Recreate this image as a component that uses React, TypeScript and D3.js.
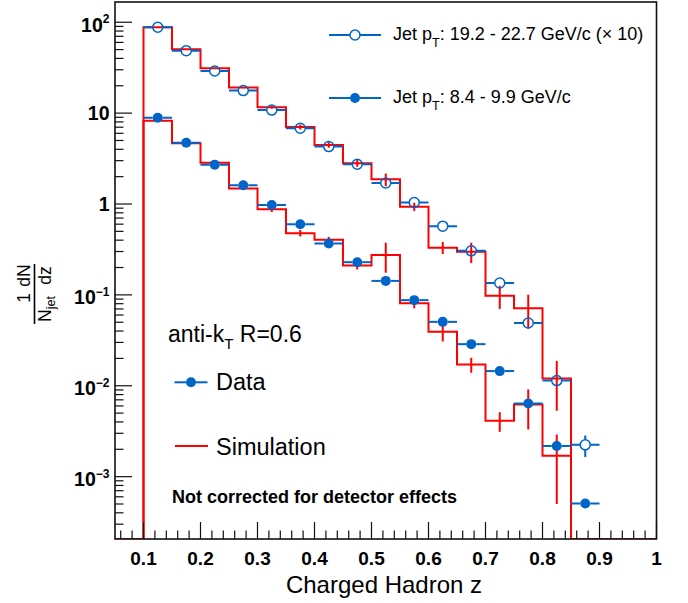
import React from "react";
import * as d3 from "d3";

// ---- data ----
const binLow = [0.1, 0.15, 0.2, 0.25, 0.3, 0.35, 0.4, 0.45, 0.5, 0.55, 0.6, 0.65, 0.7, 0.75, 0.8, 0.85];
const binWidth = 0.05;

// Data, Jet pT 19.2 - 22.7 GeV/c (x 10)
const dataHigh = [88, 48.7, 29.1, 17.7, 10.8, 6.82, 4.28, 2.74, 1.7, 1.04, 0.57, 0.305, 0.135, 0.049, 0.0114, 0.00224];
const dataHighErr = [0, 0, 0, 0, 0, 0, 0, 0, 0, 0, 0, 0, 0, 0, 0, 0.0006];
// Data, Jet pT 8.4 - 9.9 GeV/c
const dataLow = [8.9, 4.73, 2.71, 1.61, 0.977, 0.6, 0.367, 0.229, 0.1425, 0.0875, 0.0505, 0.0287, 0.0145, 0.00637, 0.00217, 0.000506];
const dataLowErr = [0, 0, 0, 0, 0, 0, 0, 0, 0, 0, 0, 0, 0, 0, 0, 0];

// Simulation (bins 0.10 - 0.85)
const simHigh = [88, 50.5, 31.2, 19.1, 11.6, 7.05, 4.47, 2.81, 1.87, 0.935, 0.331, 0.299, 0.098, 0.0714, 0.012];
const simHighErr = [0.5, 0.4, 0.3, 0.3, 0.4, 0.45, 0.3, 0.24, 0.3, 0.095, 0.05, 0.075, 0.028, 0.029, 0.0067];
const simLow = [8.26, 4.67, 2.85, 1.48, 0.877, 0.478, 0.403, 0.21, 0.275, 0.0811, 0.0392, 0.0171, 0.00411, 0.00621, 0.0017];
const simLowErr = [0.05, 0.04, 0.04, 0.04, 0.06, 0.04, 0.03, 0.02, 0.1, 0.01, 0.0085, 0.0032, 0.001, 0.0029, 0.0012];

const xTickLabels = ["0.1", "0.2", "0.3", "0.4", "0.5", "0.6", "0.7", "0.8", "0.9", "1"];
const xTickValues = [0.1, 0.2, 0.3, 0.4, 0.5, 0.6, 0.7, 0.8, 0.9, 1.0];
const yTickExps = [2, 1, 0, -1, -2, -3];

const legendHigh = ["Jet p", "T", ": 19.2 - 22.7 GeV/c (\u00d7 10)"];
const legendLow = ["Jet p", "T", ": 8.4 - 9.9 GeV/c"];

// ---- layout ----
const W = 688, H = 603;
const X0 = 115, X1 = 656.5, Y0 = 2, Y1 = 539;
const XMIN = 0.05, XMAX = 1.0, YMIN = 2.06e-4, YMAX = 167;
const BLUE = "#0064c8";
const RED = "#ff0000";
const FONT = "'Liberation Sans', Arial, Helvetica, sans-serif";

const x = d3.scaleLinear().domain([XMIN, XMAX]).range([X0, X1]);
const y = d3.scaleLog().domain([YMIN, YMAX]).range([Y1, Y0]);

function simPath(vals: number[]): string {
  const pts: [number, number][] = [[XMIN, YMIN]];
  vals.forEach((v, i) => pts.push([binLow[i], v]));
  pts.push([binLow[vals.length], YMIN]);
  pts.push([XMAX, YMIN]);
  const line = d3
    .line<[number, number]>()
    .x((d) => x(d[0]))
    .y((d) => y(Math.max(d[1], YMIN)))
    .curve(d3.curveStepAfter);
  return line(pts) || "";
}

const yc = (v: number) => Math.min(Y1, Math.max(Y0, y(Math.max(v, YMIN))));

function SimErrors({ vals, errs }: { vals: number[]; errs: number[] }) {
  return (
    <g stroke={RED} strokeWidth={2}>
      {vals.map((v, i) => {
        const cx = x(binLow[i] + binWidth / 2);
        return <line key={i} x1={cx} x2={cx} y1={yc(v + errs[i])} y2={yc(v - errs[i])} />;
      })}
    </g>
  );
}

function DataSeries({ vals, errs, open }: { vals: number[]; errs: number[]; open: boolean }) {
  const r = 5;
  return (
    <g>
      {vals.map((v, i) => {
        const cx = x(binLow[i] + binWidth / 2);
        const cy = y(v);
        const xl = x(binLow[i]);
        const xr = x(binLow[i] + binWidth);
        const up = y(v + errs[i]);
        const dn = yc(v - errs[i]);
        return (
          <g key={i}>
            <g stroke={BLUE} strokeWidth={2}>
              <line x1={xl} x2={cx - r} y1={cy} y2={cy} />
              <line x1={cx + r} x2={xr} y1={cy} y2={cy} />
              {errs[i] > 0 && cy - up > r && <line x1={cx} x2={cx} y1={up} y2={cy - r} />}
              {errs[i] > 0 && dn - cy > r && <line x1={cx} x2={cx} y1={cy + r} y2={dn} />}
            </g>
            {open ? (
              <circle cx={cx} cy={cy} r={r} fill="none" stroke={BLUE} strokeWidth={1.5} />
            ) : (
              <circle cx={cx} cy={cy} r={r} fill={BLUE} />
            )}
          </g>
        );
      })}
    </g>
  );
}

function LegendMarker({ cx, cy, open, half }: { cx: number; cy: number; open: boolean; half: number }) {
  const r = 5;
  return (
    <g>
      <g stroke={BLUE} strokeWidth={2}>
        <line x1={cx - half} x2={cx - r} y1={cy} y2={cy} />
        <line x1={cx + r} x2={cx + half} y1={cy} y2={cy} />
      </g>
      {open ? (
        <circle cx={cx} cy={cy} r={r} fill="none" stroke={BLUE} strokeWidth={1.5} />
      ) : (
        <circle cx={cx} cy={cy} r={r} fill={BLUE} />
      )}
    </g>
  );
}

export default function App() {
  // ticks
  const xMajor = xTickValues;
  const xMinor: number[] = [];
  for (let k = 3; k <= 50; k++) {
    const v = k * 0.02;
    if (v > XMIN && v < XMAX && Math.abs(v * 10 - Math.round(v * 10)) > 1e-6) xMinor.push(v);
  }
  const yMinor: number[] = [];
  for (let e = -4; e <= 2; e++) {
    for (let m = 2; m <= 9; m++) {
      const v = m * Math.pow(10, e);
      if (v > YMIN && v < YMAX) yMinor.push(v);
    }
  }

  const yLabel = (e: number) => {
    if (e === 0) return <tspan>1</tspan>;
    if (e === 1) return <tspan>10</tspan>;
    const sup = e < 0 ? "\u2212" + Math.abs(e) : String(e);
    return (
      <>
        <tspan>10</tspan>
        <tspan fontSize={12} dy={-8.5}>{sup}</tspan>
      </>
    );
  };

  return (
    <svg width={W} height={H} style={{ position: "absolute", left: 0, top: 0, background: "#fff" }} fontFamily={FONT}>
      <rect x={0} y={0} width={W} height={H} fill="#fff" />
      <defs>
        <clipPath id="frameClip">
          <rect x={X0} y={Y0} width={X1 - X0} height={Y1 - Y0} />
        </clipPath>
      </defs>

      {/* simulation histograms */}
      <g clipPath="url(#frameClip)">
        <path d={simPath(simHigh)} fill="none" stroke={RED} strokeWidth={2} />
        <path d={simPath(simLow)} fill="none" stroke={RED} strokeWidth={2} />
        <SimErrors vals={simHigh} errs={simHighErr} />
        <SimErrors vals={simLow} errs={simLowErr} />
        <DataSeries vals={dataHigh} errs={dataHighErr} open={true} />
        <DataSeries vals={dataLow} errs={dataLowErr} open={false} />
      </g>

      {/* frame */}
      <rect x={X0} y={Y0} width={X1 - X0} height={Y1 - Y0} fill="none" stroke="#111" strokeWidth={1.6} />

      {/* x ticks */}
      <g stroke="#111" strokeWidth={1.2}>
        {xMajor.map((v) => (
          <line key={"xM" + v} x1={x(v)} x2={x(v)} y1={Y1} y2={Y1 - 17} />
        ))}
        {xMinor.map((v) => (
          <line key={"xm" + v} x1={x(v)} x2={x(v)} y1={Y1} y2={Y1 - 8.5} />
        ))}
      </g>
      <g fontSize={19} fontWeight="bold" textAnchor="middle" fill="#000">
        {xMajor.map((v, i) => (
          <text key={"xl" + v} x={x(v)} y={565}>
            {xTickLabels[i]}
          </text>
        ))}
      </g>

      {/* y ticks */}
      <g stroke="#111" strokeWidth={1.2}>
        {yTickExps.map((e) => (
          <line key={"yM" + e} x1={X0} x2={X0 + 17} y1={y(Math.pow(10, e))} y2={y(Math.pow(10, e))} />
        ))}
        {yMinor.map((v, i) => (
          <line key={"ym" + i} x1={X0} x2={X0 + 8.5} y1={y(v)} y2={y(v)} />
        ))}
      </g>
      <g fontSize={19.5} fontWeight="bold" textAnchor="end" fill="#000">
        {yTickExps.map((e) => (
          <text key={"yl" + e} x={109.5} y={y(Math.pow(10, e)) + (e === 0 || e === 1 ? 7 : 9.5)}>
            {yLabel(e)}
          </text>
        ))}
      </g>

      {/* axis titles */}
      <text x={384} y={593} fontSize={24} textAnchor="middle" fill="#000">
        Charged Hadron z
      </text>
      <g transform="translate(34.5,295) rotate(-90)" fill="#000" fontSize={17.5}>
        <line x1={-29} x2={31} y1={0} y2={0} stroke="#000" strokeWidth={1.6} />
        <text x={-3} y={-4.5} textAnchor="middle">1</text>
        <text x={-14} y={16} textAnchor="middle">
          N<tspan fontSize={12.5} dy={4}>jet</tspan>
        </text>
        <text x={19.5} y={-4.5} textAnchor="middle">dN</text>
        <text x={19.5} y={16} textAnchor="middle">dz</text>
      </g>

      {/* top legend */}
      <LegendMarker cx={355} cy={35} open={true} half={26} />
      <text x={393} y={40} fontSize={18} fill="#000">
        {legendHigh[0]}
        <tspan fontSize={12.5} dy={7}>{legendHigh[1]}</tspan>
        <tspan dy={-7}>{legendHigh[2]}</tspan>
      </text>
      <LegendMarker cx={355} cy={98} open={false} half={26} />
      <text x={393} y={103} fontSize={18} fill="#000">
        {legendLow[0]}
        <tspan fontSize={12.5} dy={7}>{legendLow[1]}</tspan>
        <tspan dy={-7}>{legendLow[2]}</tspan>
      </text>

      {/* bottom-left legend */}
      <text x={168} y={341.7} fontSize={23} fill="#000">
        anti-k<tspan fontSize={15} dy={7}>T</tspan>
        <tspan dy={-7}> R=0.6</tspan>
      </text>
      <LegendMarker cx={191} cy={382.3} open={false} half={16.5} />
      <text x={216} y={390} fontSize={23.5} fill="#000">
        Data
      </text>
      <line x1={175} x2={208} y1={446} y2={446} stroke={RED} strokeWidth={2} />
      <text x={216} y={455} fontSize={23.5} fill="#000">
        Simulation
      </text>

      <text x={172} y={503} fontSize={18} fontWeight="bold" fill="#000">
        Not corrected for detector effects
      </text>
    </svg>
  );
}
